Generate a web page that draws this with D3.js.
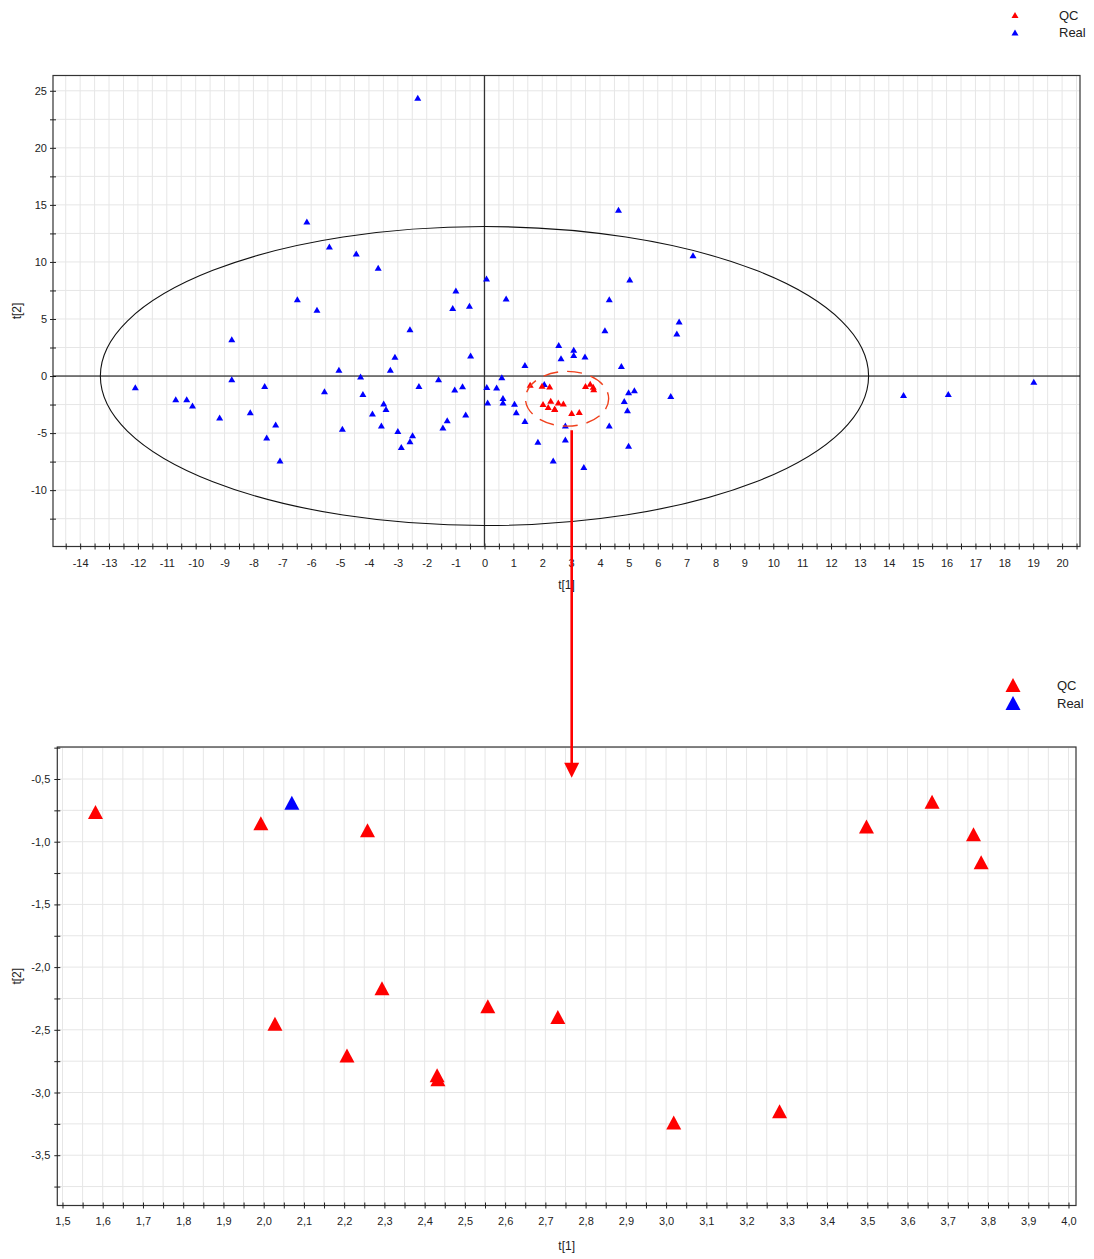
<!DOCTYPE html>
<html>
<head>
<meta charset="utf-8">
<script src="https://cdn.jsdelivr.net/npm/d3@7"></script>
<style>
body { margin: 0; background: #fff; }
text { font-family: "Liberation Sans", Arial, sans-serif; fill: #222; }
</style>
</head>
<body>
<svg id="chart" width="1094" height="1259"></svg>
<script>
// QC samples (t[1], t[2])
var qcT1 = [1.582, 1.993, 2.258, 2.294, 2.028, 2.207, 2.431, 2.433, 2.557, 2.731, 3.498, 3.661, 3.764, 3.783, 3.019, 3.282];
var qcT2 = [-0.763, -0.852, -0.908, -2.168, -2.452, -2.705, -2.863, -2.895, -2.312, -2.398, -0.879, -0.682, -0.941, -1.164, -3.239, -3.149];

// Real samples (t[1], t[2])
var realT1 = [-2.31, -6.15, -5.37, -4.44, -3.68, 0.07, 4.64, 7.22, 5.03, -6.48, -5.80, -0.99, -1.10, -0.52, 0.75, 4.32,
  -2.58, -8.75, 6.74, 6.66, 4.17, -0.48, -3.10, 2.57, 3.09, 3.09, 2.65, 3.48, 1.40, 4.74, -5.04, -3.26,
  -8.75, -4.29, -1.59, 0.60, -12.09, -7.61, -5.54, -4.21, -2.27, -1.03, -0.76, 0.08, 0.42, 2.07,
  -10.69, -10.31, -10.11, -9.17, -8.11, -7.23, -7.54, -7.08, -4.92, -3.88, -3.57, -3.49, -3.41, -3.00, -2.88,
  -2.58, -2.49, -1.44, -1.29, -0.65, 0.11, 0.64, 0.64, 1.04, 1.10, 1.40,
  4.99, 5.19, 4.84, 4.95, 4.32, 4.99, 6.45, 2.80, 2.80, 1.85, 2.38, 3.44, 14.51, 16.06, 19.02];
var realT2 = [24.39, 13.55, 11.36, 10.75, 9.50, 8.54, 14.57, 10.58, 8.45, 6.73, 5.80, 7.49, 5.96, 6.15, 6.79, 6.73,
  4.11, 3.23, 4.78, 3.73, 4.02, 1.81, 1.70, 2.71, 2.31, 1.84, 1.55, 1.72, 0.96, 0.87, 0.56, 0.56,
  -0.29, -0.03, -0.29, -0.11, -0.99, -0.87, -1.34, -1.57, -0.87, -1.19, -0.90, -0.96, -1.01, -0.69,
  -2.04, -2.04, -2.59, -3.64, -3.17, -4.25, -5.39, -7.40, -4.63, -3.29, -4.34, -2.41, -2.88, -4.81, -6.23,
  -5.71, -5.18, -4.51, -3.87, -3.37, -2.33, -1.92, -2.33, -2.42, -3.17, -3.93,
  -1.42, -1.25, -2.18, -3.00, -4.34, -6.12, -1.75, -4.34, -5.56, -5.77, -7.40, -7.98, -1.66, -1.57, -0.49];

var groups = ["QC", "Real"];
var groupColors = ["#ff0000", "#0000ff"];

// Hotelling ellipse semi-axes, QC highlight ellipse (center x, center y, rx, ry)
var hotelling = [13.3, 13.1];
var qcRing = [2.86, -1.99, 1.44, 2.40];
// arrow: start (t1, t2) in overview, end t2 in zoom
var arrowStart = [3.02, -4.75];
var arrowEndT2 = -0.49;

var svg = d3.select("#chart");

var qcData = qcT1.map(function (d, i) { return { x: d, y: qcT2[i], g: 0 }; });
var realData = realT1.map(function (d, i) { return { x: d, y: realT2[i], g: 1 }; });
var allData = realData.concat(qcData);

function tri(w, h) {
    return "M0," + (-h / 2) + "L" + (w / 2) + "," + (h / 2) + "L" + (-w / 2) + "," + (h / 2) + "Z";
}
function comma(d) { return d.toFixed(1).replace(".", ","); }
function isMult(d, s) { return Math.abs(d / s - Math.round(d / s)) < 1e-6; }

function plot(o) {
    var x = d3.scaleLinear().domain(o.xd).range([o.left, o.right]);
    var y = d3.scaleLinear().domain(o.yd).range([o.bottom, o.top]);
    var g = svg.append("g");

    // grid
    g.selectAll(".gx").data(o.xGrid).enter().append("line")
        .attr("x1", function (d) { return x(d); }).attr("x2", function (d) { return x(d); })
        .attr("y1", o.top).attr("y2", o.bottom)
        .attr("stroke", "#e6e6e6").attr("stroke-width", 1);
    g.selectAll(".gy").data(o.yGrid).enter().append("line")
        .attr("y1", function (d) { return y(d); }).attr("y2", function (d) { return y(d); })
        .attr("x1", o.left).attr("x2", o.right)
        .attr("stroke", "#e6e6e6").attr("stroke-width", 1);

    // frame
    g.append("rect").attr("x", o.left).attr("y", o.top)
        .attr("width", o.right - o.left).attr("height", o.bottom - o.top)
        .attr("fill", "none").attr("stroke", "#333").attr("stroke-width", 1.2);

    // axes
    var ax = g.append("g").attr("transform", "translate(0," + o.bottom + ")")
        .call(d3.axisBottom(x).tickValues(o.xGrid).tickSize(3).tickPadding(o.xPad).tickFormat(o.xFmt));
    ax.select(".domain").remove();
    ax.selectAll(".tick line").attr("y1", -3).attr("y2", 3).attr("stroke", "#222");
    ax.selectAll("text").style("font-size", "11px").attr("fill", "#222");

    var ay = g.append("g").attr("transform", "translate(" + o.left + ",0)")
        .call(d3.axisLeft(y).tickValues(o.yGrid).tickSize(2).tickPadding(o.yPad).tickFormat(o.yFmt));
    ay.select(".domain").remove();
    ay.selectAll(".tick line").attr("x1", -3).attr("x2", 3).attr("stroke", "#222");
    ay.selectAll("text").style("font-size", "11px").attr("fill", "#222");

    // axis titles
    g.append("text").attr("x", (o.left + o.right) / 2).attr("y", o.bottom + o.xTitle)
        .attr("text-anchor", "middle").style("font-size", "12px").text("t[1]");
    g.append("text").attr("transform", "translate(21," + (o.top + o.bottom) / 2 + ") rotate(-90)")
        .attr("text-anchor", "middle").style("font-size", "12px").text("t[2]");

    return { g: g, x: x, y: y };
}

// ---------- overview score plot ----------
var overview = plot({
    left: 53, right: 1080, top: 75.5, bottom: 546.5,
    xd: [-14.94, 20.62], yd: [-14.94, 26.34],
    xGrid: d3.range(-29, 42).map(function (i) { return i * 0.5; }),
    yGrid: d3.range(-5, 11).map(function (i) { return i * 2.5; }),
    xFmt: function (d) { return isMult(d, 1) ? String(d) : ""; },
    yFmt: function (d) { return isMult(d, 5) ? String(d) : ""; },
    xPad: 10, yPad: 4, xTitle: 42
});

// zero lines
overview.g.append("line").attr("x1", 53).attr("x2", 1080)
    .attr("y1", overview.y(0)).attr("y2", overview.y(0)).attr("stroke", "#000").attr("stroke-width", 1);
overview.g.append("line").attr("x1", overview.x(0)).attr("x2", overview.x(0))
    .attr("y1", 75.5).attr("y2", 546.5).attr("stroke", "#333").attr("stroke-width", 1.3);

// Hotelling T2 ellipse
overview.g.append("ellipse")
    .attr("cx", overview.x(0)).attr("cy", overview.y(0))
    .attr("rx", overview.x(hotelling[0]) - overview.x(0)).attr("ry", overview.y(0) - overview.y(hotelling[1]))
    .attr("fill", "none").attr("stroke", "#111").attr("stroke-width", 1.1);

overview.g.selectAll(".pt").data(allData).enter().append("path")
    .attr("d", tri(7, 6))
    .attr("transform", function (d) { return "translate(" + overview.x(d.x) + "," + overview.y(d.y) + ")"; })
    .attr("fill", function (d) { return groupColors[d.g]; });

// QC highlight ring
overview.g.append("ellipse")
    .attr("cx", overview.x(qcRing[0])).attr("cy", overview.y(qcRing[1]))
    .attr("rx", overview.x(qcRing[0] + qcRing[2]) - overview.x(qcRing[0]))
    .attr("ry", overview.y(qcRing[1] - qcRing[3]) - overview.y(qcRing[1]))
    .attr("fill", "none").attr("stroke", "#f0401c").attr("stroke-width", 1.4)
    .attr("stroke-dasharray", "15,9").attr("stroke-dashoffset", 4);

// ---------- zoomed QC plot ----------
var zoomed = plot({
    left: 57.3, right: 1076, top: 747, bottom: 1205.5,
    xd: [1.4871, 4.0187], yd: [-3.901, -0.2448],
    xGrid: d3.range(30, 81).map(function (i) { return i * 0.05; }),
    yGrid: d3.range(-15, 0).map(function (i) { return i * 0.25; }),
    xFmt: function (d) { return isMult(d, 0.1) ? comma(d) : ""; },
    yFmt: function (d) { return isMult(d, 0.5) ? comma(d) : ""; },
    xPad: 9, yPad: 5, xTitle: 44
});

var xd = zoomed.x.domain(), yd = zoomed.y.domain();
var inZoom = allData.filter(function (d) {
    return d.x >= xd[0] && d.x <= xd[1] && d.y >= yd[0] && d.y <= yd[1];
});
zoomed.g.selectAll(".pt").data(inZoom).enter().append("path")
    .attr("d", tri(15, 14))
    .attr("transform", function (d) { return "translate(" + zoomed.x(d.x) + "," + zoomed.y(d.y) + ")"; })
    .attr("fill", function (d) { return groupColors[d.g]; });

// ---------- arrow ----------
var ax0 = overview.x(arrowStart[0]), ay0 = overview.y(arrowStart[1]), ay1 = zoomed.y(arrowEndT2);
svg.append("line").attr("x1", ax0).attr("x2", ax0).attr("y1", ay0).attr("y2", ay1 - 12)
    .attr("stroke", "#ff0000").attr("stroke-width", 2.6);
svg.append("path")
    .attr("d", "M" + (ax0 - 7.5) + "," + (ay1 - 15) + "L" + (ax0 + 7.5) + "," + (ay1 - 15) + "L" + ax0 + "," + ay1 + "Z")
    .attr("fill", "#ff0000");

// ---------- legends ----------
function legend(x0, y0, dy, w, h) {
    var lg = svg.append("g");
    groups.forEach(function (name, i) {
        lg.append("path").attr("d", tri(w, h))
            .attr("transform", "translate(" + x0 + "," + (y0 + i * dy) + ")")
            .attr("fill", groupColors[i]);
        lg.append("text").attr("x", x0 + 44).attr("y", y0 + i * dy).attr("dy", "0.35em")
            .style("font-size", "13px").text(name);
    });
}
legend(1015, 15, 17.5, 7, 6);
legend(1013, 685, 18, 15, 14);
</script>
</body>
</html>
